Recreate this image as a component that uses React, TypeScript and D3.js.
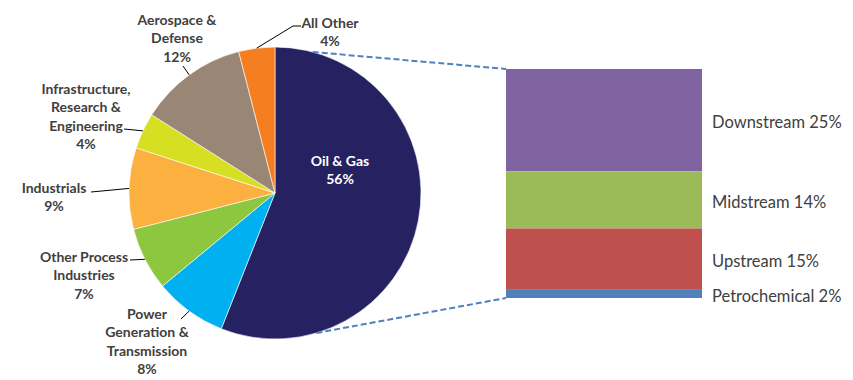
import React from "react";
import * as d3 from "d3";

// ---- data ----
const sectors = [
  "Oil & Gas",
  "Power Generation & Transmission",
  "Other Process Industries",
  "Industrials",
  "Infrastructure, Research & Engineering",
  "Aerospace & Defense",
  "All Other",
];
const sectorShares = [56, 8, 7, 9, 4, 12, 4];
const sectorColors = ["#262262", "#00b0f0", "#8dc63f", "#fbb040", "#d7df23", "#998675", "#f47e20"];

const segments = ["Downstream", "Midstream", "Upstream", "Petrochemical"];
const segmentShares = [25, 14, 15, 2];
const segmentColors = ["#8064a2", "#9bbb59", "#c0504d", "#4f81bd"];

// ---- layout (label placement) ----
const labelLines = [
  ["Oil & Gas", "56%"],
  ["Power", "Generation &", "Transmission", "8%"],
  ["Other Process", "Industries", "7%"],
  ["Industrials", "9%"],
  ["Infrastructure,", "Research &", "Engineering", "4%"],
  ["Aerospace &", "Defense", "12%"],
  ["All Other", "4%"],
];
const labelPos: [number, number][] = [
  [340, 160], [147, 313], [84, 256], [54, 187], [86, 88], [177, 19], [330, 22],
];
// leader end points (null = no leader), optional elbow end
const leaderEnds: ([number, number][] | null)[] = [
  null,
  [[181, 319]],
  [[130, 260]],
  [[91, 192]],
  [[124, 129]],
  [[183, 66]],
  [[293, 26], [301, 26]],
];

const W = 853, H = 380;
const cx = 275, cy = 193, R = 146;
const barX0 = 506, barX1 = 702, barTop = 69, barBottom = 298;
const lineH = 18.5;

export default function App() {
  const pie = d3.pie<number>().sort(null).value((d) => d)(sectorShares);
  const arc = d3.arc<d3.PieArcDatum<number>>().innerRadius(0).outerRadius(R);

  const total = d3.sum(segmentShares);
  const y = d3.scaleLinear().domain([0, total]).range([barTop, barBottom]);
  const stack: { name: string; v: number; y0: number; y1: number; color: string }[] = [];
  let acc = 0;
  segments.forEach((s, i) => {
    stack.push({ name: s, v: segmentShares[i], y0: acc, y1: acc + segmentShares[i], color: segmentColors[i] });
    acc += segmentShares[i];
  });

  const pt = (angleDeg: number, r: number): [number, number] => {
    const a = (angleDeg * Math.PI) / 180;
    return [cx + r * Math.sin(a), cy - r * Math.cos(a)];
  };
  const topConn = pt(15, R);
  const botConn = pt(163.5, R);

  return (
    <svg
      width={W}
      height={H}
      style={{ position: "absolute", left: 0, top: 0, background: "#fff" }}
      fontFamily="Lato, 'Open Sans', sans-serif"
    >
      <g transform={`translate(${cx},${cy})`}>
        {pie.map((p, i) => (
          <path key={i} d={arc(p) || ""} fill={sectorColors[i]} stroke="#fff" strokeWidth={0.6} />
        ))}
      </g>

      {/* leader lines */}
      {pie.map((p, i) => {
        const ends = leaderEnds[i];
        if (!ends) return null;
        const mid = ((p.startAngle + p.endAngle) / 2) * (180 / Math.PI);
        const start = pt(mid, R);
        const pts = [start, ...ends];
        return (
          <path
            key={i}
            d={d3.line()(pts) || ""}
            fill="none"
            stroke="#000"
            strokeWidth={1}
          />
        );
      })}

      {/* pie labels */}
      {labelLines.map((lines, i) => (
        <text
          key={i}
          x={labelPos[i][0]}
          y={labelPos[i][1]}
          textAnchor="middle"
          fontWeight="bold"
          fontSize={14}
          fill={i === 0 ? "#ffffff" : "#404040"}
        >
          {lines.map((l, j) => (
            <tspan key={j} x={labelPos[i][0]} y={labelPos[i][1] + j * lineH} dominantBaseline="central">
              {l}
            </tspan>
          ))}
        </text>
      ))}

      {/* connectors */}
      <line x1={topConn[0]} y1={topConn[1]} x2={barX0} y2={barTop} stroke="#4f81bd" strokeWidth={2} strokeDasharray="6 3" />
      <line x1={botConn[0]} y1={botConn[1]} x2={barX0} y2={barBottom} stroke="#4f81bd" strokeWidth={2} strokeDasharray="6 3" />

      {/* bar of pie */}
      {stack.map((s, i) => (
        <rect key={i} x={barX0} width={barX1 - barX0} y={y(s.y0)} height={y(s.y1) - y(s.y0)} fill={s.color} />
      ))}
      {stack.map((s, i) => (
        <text
          key={i}
          x={712}
          y={(y(s.y0) + y(s.y1)) / 2 + 2}
          dominantBaseline="central"
          fontSize={16.5}
          fill="#404040"
        >
          {`${s.name} ${s.v}%`}
        </text>
      ))}
    </svg>
  );
}
